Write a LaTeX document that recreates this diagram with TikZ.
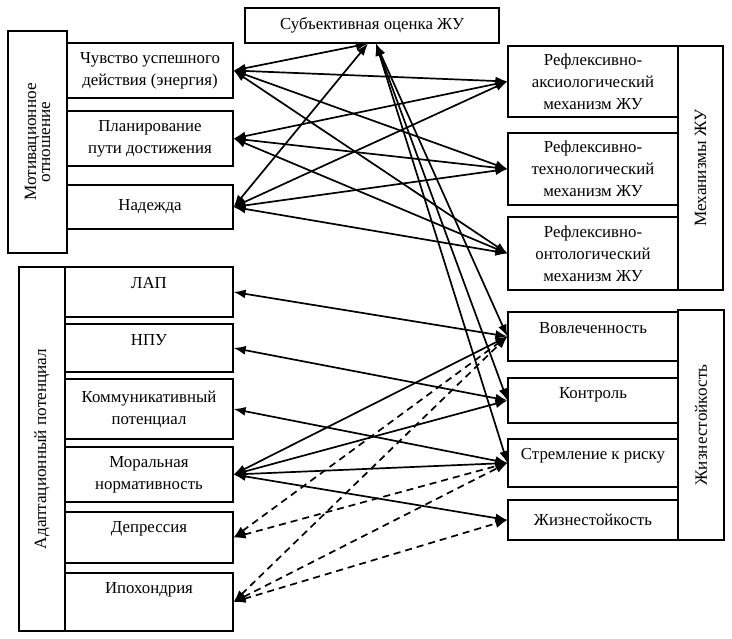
\documentclass[tikz,border=0pt]{standalone}
\usepackage{fontspec}
\setmainfont{Liberation Serif}
\usetikzlibrary{arrows.meta}

\tikzset{
  cell/.style={draw, line width=1.2pt, inner sep=0pt, align=center},
  toplab/.style={anchor=center, yshift=-17pt},
  conn/.style={line width=1.7pt, {Latex[length=12pt,width=9pt]}-{Latex[length=12pt,width=9pt]}},
  dconn/.style={conn, dash pattern=on 7pt off 5pt}
}

\begin{document}
\begin{tikzpicture}[x=1pt,y=-1pt,font=\fontsize{16.8}{22}\selectfont]
\useasboundingbox (0,0) rectangle (732,639);

% left groups
\node[cell, rotate=90, minimum width=222, minimum height=59, font=\fontsize{17.2}{14}\selectfont] (motiv) at (37.5,142) {Мотивационное\\отношение};
\node[cell, minimum width=166, minimum height=55] (chuv) at (150,70.5) {Чувство успешного\\действия (энергия)};
\node[cell, minimum width=166, minimum height=55] (plan) at (150,138.5) {Планирование\\пути достижения};
\node[cell, minimum width=166, minimum height=44] (nad) at (150,207) {Надежда};

\node[cell, rotate=90, minimum width=364, minimum height=46, font=\fontsize{17.2}{22}\selectfont] (adapt) at (42,449) {Адаптационный потенциал};
\node[cell, minimum width=168, minimum height=50, label={[toplab]north:ЛАП}] (lap) at (149,292) {};
\node[cell, minimum width=168, minimum height=48, label={[toplab]north:НПУ}] (npu) at (149,348) {};
\node[cell, minimum width=168, minimum height=60] (komm) at (149,409) {Коммуникативный\\потенциал};
\node[cell, minimum width=168, minimum height=55] (moral) at (149,474.5) {Моральная\\нормативность};
\node[cell, minimum width=168, minimum height=51, label={[toplab]north:Депрессия}] (depr) at (149,537.5) {};
\node[cell, minimum width=168, minimum height=58, label={[toplab]north:Ипохондрия}] (ipoh) at (149,602) {};

% top
\node[cell, minimum width=254, minimum height=35] (sub) at (372,25.5) {Субъективная оценка ЖУ};

% right groups
\node[cell, minimum width=170, minimum height=71] (mA) at (593,81.5) {Рефлексивно-\\аксиологический\\механизм ЖУ};
\node[cell, minimum width=170, minimum height=72] (mB) at (593,169) {Рефлексивно-\\технологический\\механизм ЖУ};
\node[cell, minimum width=170, minimum height=73] (mC) at (593,253.5) {Рефлексивно-\\онтологический\\механизм ЖУ};
\node[cell, rotate=90, minimum width=244, minimum height=45, font=\fontsize{17.2}{22}\selectfont] (mech) at (700.5,168) {Механизмы ЖУ};

\node[cell, minimum width=170, minimum height=49, label={[toplab]north:Вовлеченность}] (vovl) at (593,336.5) {};
\node[cell, minimum width=170, minimum height=45, label={[toplab]north:Контроль}] (kontr) at (593,400.5) {};
\node[cell, minimum width=170, minimum height=48, label={[toplab]north:Стремление к риску}] (strem) at (593,463) {};
\node[cell, minimum width=170, minimum height=40] (zh) at (593,520) {Жизнестойкость};
\node[cell, rotate=90, minimum width=230, minimum height=46, font=\fontsize{17.2}{22}\selectfont] (zhiz) at (701,425) {Жизнестойкость};

% connectors
\draw[conn] (chuv.east) -- ([xshift=-4pt]sub.south);
\draw[conn] (nad.east) -- ([xshift=-4pt]sub.south);
\foreach \t in {vovl,kontr,strem}
{
\draw[conn] ([xshift=4pt]sub.south) -- (\t.west);
}
\foreach \s in {chuv,plan,nad}
{
\foreach \t in {mA,mB,mC}
{
\draw[conn] (\s.east) -- (\t.west);
}
}
\draw[conn] (lap.east) -- (vovl.west);
\draw[conn] (npu.east) -- (kontr.west);
\draw[conn] (komm.east) -- (strem.west);
\foreach \t in {vovl,kontr,strem,zh}
{
\draw[conn] (moral.east) -- (\t.west);
}
\draw[dconn] (depr.east) -- (vovl.west);
\draw[dconn] (depr.east) -- (strem.west);
\draw[dconn] (ipoh.east) -- (vovl.west);
\draw[dconn] (ipoh.east) -- (strem.west);
\draw[dconn] (ipoh.east) -- (zh.west);
\end{tikzpicture}
\end{document}
